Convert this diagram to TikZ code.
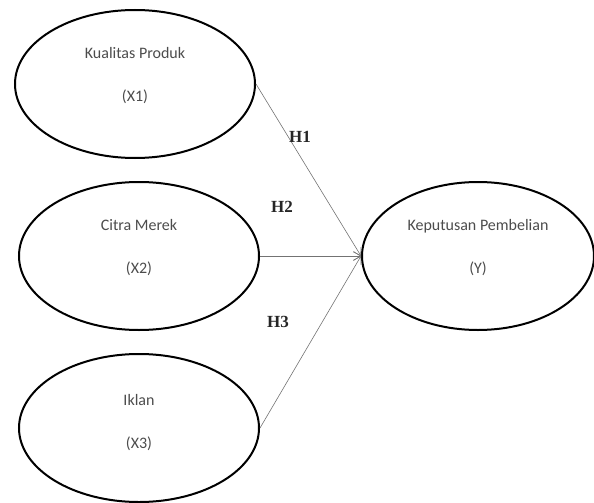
\documentclass[tikz,border=0pt]{standalone}
\usepackage{fontspec}
\setmainfont{Carlito}
\newfontfamily\hypfont{Liberation Serif}
\usetikzlibrary{shapes.geometric,arrows.meta}

\begin{document}
\begin{tikzpicture}[x=1pt, y=-1pt, node distance=172pt,
  latent/.style={ellipse, draw, line width=2pt, minimum width=240pt, minimum height=148pt, inner sep=0pt, align=center, text=black!70, font=\fontsize{16}{19}\selectfont},
  hyp/.style={font=\hypfont\bfseries\fontsize{17}{20}\selectfont, text=black!85},
  path/.style={-{Straight Barb[length=7pt, width=9pt]}, draw=black!55, line width=0.6pt}]

  \useasboundingbox (0,0) rectangle (594,503);

  \node[latent, text depth=20pt] at (139,256) (x2) {Citra Merek\\[24pt](X2)};
  \node[latent, text depth=20pt, above of=x2, xshift=-4pt] (x1) {Kualitas Produk\\[24pt](X1)};
  \node[latent, text depth=14pt, below of=x2] (x3) {Iklan\\[24pt](X3)};
  \node[latent, text depth=20pt, right of=x2, node distance=339pt, minimum width=232pt] (y) {Keputusan Pembelian\\[24pt](Y)};

  \draw[path] (x1.east) -- (y.west);
  \draw[path] (x2.east) -- (y.west);
  \draw[path] (x3.east) -- (y.west);

  \node[hyp] at (300,137) (h1) {H1};
  \node[hyp] at (282,207) (h2) {H2};
  \node[hyp] at (278,322) (h3) {H3};

\end{tikzpicture}
\end{document}
